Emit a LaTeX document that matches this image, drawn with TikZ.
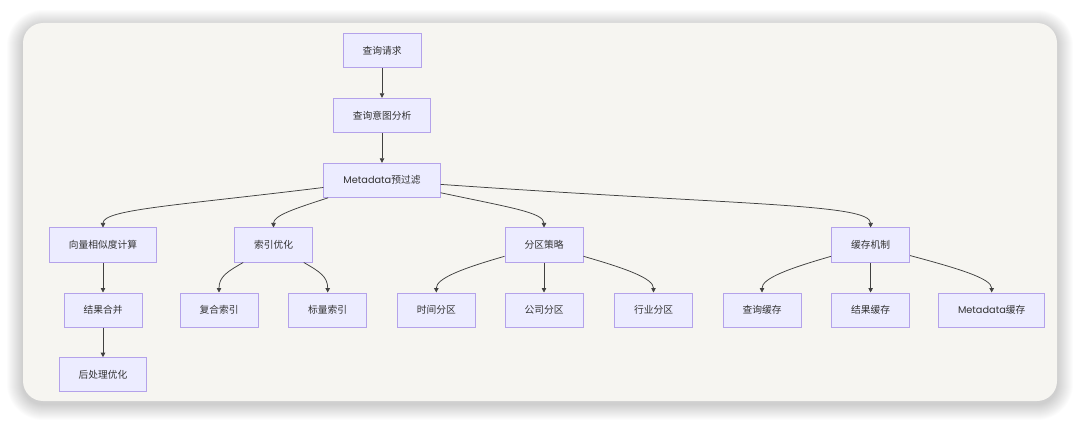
\documentclass[tikz,border=0pt]{standalone}
\usepackage{fontspec}
\setmainfont{Poppins}
\newfontfamily\cjk{Noto Sans CJK SC}
\usetikzlibrary{arrows.meta}
\definecolor{cardbg}{HTML}{F6F5F1}
\definecolor{boxfill}{HTML}{ECECFF}
\definecolor{boxline}{HTML}{B4A2EA}
\definecolor{edgecol}{HTML}{404040}
\definecolor{txtcol}{HTML}{333333}
\newcommand{\poppins}[1]{{\rmfamily #1}}
\tikzset{
  box/.style={draw=boxline, fill=boxfill, line width=1pt, minimum height=34pt,
    inner xsep=19.5pt, inner ysep=0pt, text=txtcol,
    font=\cjk\fontsize{9.75}{12}\selectfont},
  arr/.style={draw=edgecol, line width=0.75pt, -{Triangle[length=4.5pt,width=4.5pt]}},
}

\begin{document}
\begin{tikzpicture}[x=1pt, y=1pt]
			%%%%% START %%%%%
			\useasboundingbox (0,0) rectangle (1080,-425);
			\fill[white] (0,0) rectangle (1080,-425);
			
			% card and its shadow
			\foreach \s [evaluate=\s as \r using 20+\s] in {1,...,16}
				\fill[black, opacity=0.012, rounded corners=\r pt] (23-\s, -26+\s) rectangle (1057+\s, -404-\s);
			\fill[cardbg, rounded corners=20pt] (23,-23) rectangle (1057,-401);
			
			% main column
			\node[box] (req) at (382,-50.5) {查询请求};
			\node[box] (intent) at (382,-115.3) {查询意图分析};
			\node[box] (meta) at (382,-180.3) {\poppins{Metadata}预过滤};
			
			% second row
			\node[box] (vec) at (103,-245) {向量相似度计算};
			\node[box] (idx) at (273.5,-245) {索引优化};
			\node[box] (part) at (544,-245) {分区策略};
			\node[box] (cache) at (870.6,-245) {缓存机制};
			
			% third row
			\node[box] (merge) at (103,-310) {结果合并};
			\node[box] (cmp) at (219,-310) {复合索引};
			\node[box] (scal) at (327.7,-310) {标量索引};
			\node[box] (time) at (436.3,-310) {时间分区};
			\node[box] (comp) at (544,-310) {公司分区};
			\node[box] (ind) at (653.5,-310) {行业分区};
			\node[box] (qc) at (762,-310) {查询缓存};
			\node[box] (rc) at (870.6,-310) {结果缓存};
			\node[box] (mc) at (991.7,-310) {\poppins{Metadata}缓存};
			
			\node[box] (post) at (103,-374.7) {后处理优化};
			
			% straight edges
			\draw[arr] (req) -- (intent);
			\draw[arr] (intent) -- (meta);
			\draw[arr] (vec) -- (merge);
			\draw[arr] (merge) -- (post);
			\draw[arr] (part) -- (comp);
			\draw[arr] (cache) -- (rc);
			
			% curved edges
			\draw[arr] (meta) to[out=187, in=90, out distance=150pt, in distance=18pt] (vec);
			\draw[arr] (meta) to[out=198, in=90, out distance=35pt, in distance=12pt] (idx);
			\draw[arr] (meta) to[out=-12, in=90, out distance=70pt, in distance=15pt] (part);
			\draw[arr] (meta) to[out=-4, in=90, out distance=300pt, in distance=24pt] (cache);
			
			\draw[arr] (idx) to[out=210, in=90, out distance=18pt, in distance=16pt] (cmp);
			\draw[arr] (idx) to[out=-30, in=90, out distance=18pt, in distance=16pt] (scal);
			\draw[arr] (part) to[out=196, in=90, out distance=45pt, in distance=14pt] (time);
			\draw[arr] (part) to[out=-16, in=90, out distance=45pt, in distance=14pt] (ind);
			\draw[arr] (cache) to[out=196, in=90, out distance=45pt, in distance=14pt] (qc);
			\draw[arr] (cache) to[out=-15, in=90, out distance=50pt, in distance=14pt] (mc);
			
			%%%%% END %%%%%
\end{tikzpicture}
\end{document}
